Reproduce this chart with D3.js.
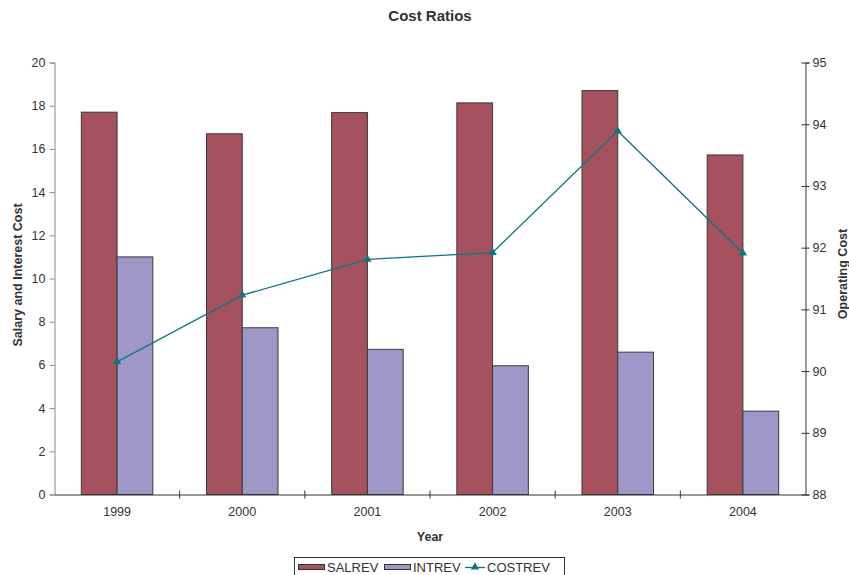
<!DOCTYPE html>
<html>
<head>
<meta charset="utf-8">
<script src="https://cdn.jsdelivr.net/npm/d3@7"></script>
<style>
  body { margin: 0; background: #fff; }
  svg { display: block; font-family: "Liberation Sans", Arial, sans-serif; }
</style>
</head>
<body>
<svg id="chart" width="849" height="575"></svg>
<script>
// Cost ratio data by year
const years = ["1999", "2000", "2001", "2002", "2003", "2004"];
const salrev = [17.70, 16.70, 17.68, 18.13, 18.70, 15.72];
const intrev = [11.00, 7.72, 6.72, 5.96, 6.59, 3.86];
const costrev = [90.15, 91.23, 91.81, 91.92, 93.89, 91.91];
const leftTicks = [0, 2, 4, 6, 8, 10, 12, 14, 16, 18, 20];
const rightTicks = [88, 89, 90, 91, 92, 93, 94, 95];

const colors = { sal: "#a5525e", int: "#9d98c8", cost: "#0f7583" };
const FONT = "Liberation Sans, Arial, sans-serif";

const svg = d3.select("#chart");
const plot = { left: 54.5, right: 805.5, top: 62.5, bottom: 494.5 };

const x = d3.scaleBand().domain(years).range([plot.left, plot.right]).paddingInner(0).paddingOuter(0);
// Excel-style gap width of 150% between bar groups
const groupW = x.bandwidth() * 2 / 3.5;
const xs = d3.scaleBand().domain(["sal", "int"]).range([0, groupW]).padding(0);
const yL = d3.scaleLinear().domain([0, 20]).range([plot.bottom, plot.top]);
const yR = d3.scaleLinear().domain([88, 95]).range([plot.bottom, plot.top]);

// Title
svg.append("text").attr("x", 430).attr("y", 21).attr("text-anchor", "middle")
  .attr("font-size", 15).attr("font-weight", "bold").attr("fill", "#333").text("Cost Ratios");

// Bars
const groups = svg.append("g").selectAll("g").data(years).join("g")
  .attr("transform", d => `translate(${x(d) + (x.bandwidth() - groupW) / 2},0)`);
groups.append("rect")
  .attr("x", xs("sal")).attr("width", xs.bandwidth())
  .attr("y", (d, i) => yL(salrev[i])).attr("height", (d, i) => yL(0) - yL(salrev[i]))
  .attr("fill", colors.sal).attr("stroke", "#3a3a3a").attr("stroke-width", 1);
groups.append("rect")
  .attr("x", xs("int")).attr("width", xs.bandwidth())
  .attr("y", (d, i) => yL(intrev[i])).attr("height", (d, i) => yL(0) - yL(intrev[i]))
  .attr("fill", colors.int).attr("stroke", "#3a3a3a").attr("stroke-width", 1);

// Left axis
const gL = svg.append("g").attr("transform", `translate(${plot.left},0)`)
  .call(d3.axisLeft(yL).tickValues(leftTicks).tickSize(5).tickPadding(4));
gL.select(".domain").attr("stroke", "#8a8a8a");
gL.selectAll(".tick line").attr("stroke", "#8a8a8a");
gL.selectAll("text").attr("font-size", 12.5).attr("fill", "#333").attr("font-family", FONT);

// Right axis with crossing ticks
const gR = svg.append("g").attr("transform", `translate(${plot.right},0)`)
  .call(d3.axisRight(yR).tickValues(rightTicks).tickFormat(d3.format("d")).tickSize(4).tickPadding(3));
gR.select(".domain").attr("stroke", "#333");
gR.selectAll(".tick line").attr("stroke", "#333").attr("x1", -4).attr("x2", 4);
gR.selectAll("text").attr("font-size", 12.5).attr("fill", "#333").attr("font-family", FONT);

// Bottom axis: labels centred under categories, ticks at category boundaries
const gB = svg.append("g").attr("transform", `translate(0,${plot.bottom})`)
  .call(d3.axisBottom(x).tickSize(0).tickPadding(13));
gB.select(".domain").attr("stroke", "#333");
gB.selectAll("text").attr("font-size", 12.5).attr("fill", "#333").attr("font-family", FONT);
svg.append("g").selectAll("line").data(years.slice(1)).join("line")
  .attr("x1", d => x(d)).attr("x2", d => x(d))
  .attr("y1", plot.bottom - 4).attr("y2", plot.bottom + 4)
  .attr("stroke", "#333");

// COSTREV line on the right axis
const line = d3.line().x((d, i) => x(years[i]) + x.bandwidth() / 2).y(d => yR(d));
svg.append("path").datum(costrev).attr("d", line)
  .attr("fill", "none").attr("stroke", colors.cost).attr("stroke-width", 1.3);
const tri = d3.symbol().type(d3.symbolTriangle).size(30);
svg.append("g").selectAll("path").data(costrev).join("path")
  .attr("d", tri)
  .attr("transform", (d, i) => `translate(${x(years[i]) + x.bandwidth() / 2},${yR(d)})`)
  .attr("fill", colors.cost);

// Axis titles
svg.append("text").attr("transform", "translate(22,275) rotate(-90)").attr("text-anchor", "middle")
  .attr("font-size", 12.5).attr("font-weight", "bold").attr("fill", "#333").text("Salary and Interest Cost");
svg.append("text").attr("transform", "translate(847,274) rotate(-90)").attr("text-anchor", "middle")
  .attr("font-size", 12.5).attr("font-weight", "bold").attr("fill", "#333").text("Operating Cost");
svg.append("text").attr("x", 430).attr("y", 541).attr("text-anchor", "middle")
  .attr("font-size", 12.5).attr("font-weight", "bold").attr("fill", "#333").text("Year");

// Legend
const lg = svg.append("g");
lg.append("rect").attr("x", 294.5).attr("y", 557.5).attr("width", 270).attr("height", 30)
  .attr("fill", "#fff").attr("stroke", "#333");
const legendItems = [
  { name: "SALREV", type: "bar", color: colors.sal, x: 298 },
  { name: "INTREV", type: "bar", color: colors.int, x: 384 },
  { name: "COSTREV", type: "line", color: colors.cost, x: 465 }
];
legendItems.forEach(it => {
  if (it.type === "bar") {
    lg.append("rect").attr("x", it.x + 0.5).attr("y", 564.5).attr("width", 26).attr("height", 5)
      .attr("fill", it.color).attr("stroke", "#333");
    lg.append("text").attr("x", it.x + 29).attr("y", 572).attr("font-size", 13).attr("fill", "#333").text(it.name);
  } else {
    lg.append("line").attr("x1", it.x).attr("x2", it.x + 20).attr("y1", 567.5).attr("y2", 567.5)
      .attr("stroke", it.color).attr("stroke-width", 1.3);
    lg.append("path").attr("d", tri).attr("transform", `translate(${it.x + 10},567)`).attr("fill", it.color);
    lg.append("text").attr("x", it.x + 22).attr("y", 572).attr("font-size", 13).attr("fill", "#333").text(it.name);
  }
});
</script>
</body>
</html>
